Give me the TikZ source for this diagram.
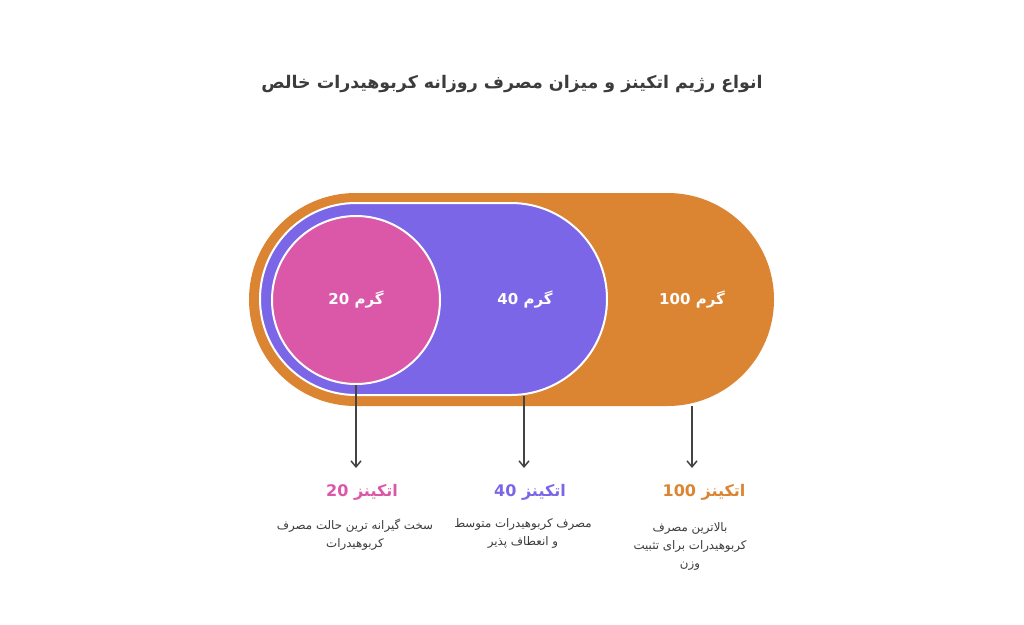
\documentclass[tikz,border=0pt]{standalone}
\usepackage{fontspec}
\newfontfamily\ar[Script=Arabic]{DejaVu Sans}
\TeXXeTstate=1
\usetikzlibrary{shapes.misc,arrows.meta}
\definecolor{orangec}{HTML}{DB8432}
\definecolor{purplec}{HTML}{7B66E8}
\definecolor{pinkc}{HTML}{DB57A8}
\definecolor{textc}{HTML}{3C3C3C}
\definecolor{arrc}{HTML}{444444}
\tikzset{
  num/.style={font=\ar\bfseries\fontsize{15}{18}\selectfont, text=white},
  head/.style={font=\ar\bfseries\fontsize{16}{20}\selectfont},
  desc/.style={font=\ar\fontsize{11.8}{18}\selectfont, text=textc, align=center},
  arr/.style={draw=arrc, line width=1.5pt, -{Straight Barb[length=6pt,width=10pt]}}
}
\begin{document}
\begin{tikzpicture}[x=1pt,y=-1pt]
\useasboundingbox (0,0) rectangle (1024,624);
\fill[white] (0,0) rectangle (1024,624);
\node[font=\ar\bfseries\fontsize{17.4}{21}\selectfont, text=textc] (title) at (512,84) {\beginR انواع رژیم اتکینز و میزان مصرف روزانه کربوهیدرات خالص\endR};
\node[rounded rectangle, fill=orangec, minimum width=525pt, minimum height=213pt, inner sep=0pt] (o100) at (511.5,299.5) {};
\node[rounded rectangle, fill=purplec, draw=white, line width=2pt, minimum width=347pt, minimum height=192pt, inner sep=0pt] (p40) at (433.5,299) {};
\node[circle, fill=pinkc, draw=white, line width=2pt, minimum size=168pt, inner sep=0pt] (c20) at (356,300) {};
\node[num] (g20) at (356,300) {\beginR گرم 20\endR};
\node[num] (g40) at (525,300) {\beginR گرم 40\endR};
\node[num] (g100) at (692,300) {\beginR گرم 100\endR};
\coordinate (e20) at (356,468);
\coordinate (e40) at (524,468);
\coordinate (e100) at (692,468);
\draw[arr] (c20.south) -- (e20);
\draw[arr] (e40 |- p40.south) -- (e40);
\draw[arr] (e100 |- o100.south) -- (e100);
\node[head, text=pinkc] (h20) at (362,492) {\beginR اتکینز 20\endR};
\node[head, text=purplec] (h40) at (530,492) {\beginR اتکینز 40\endR};
\node[head, text=orangec] (h100) at (704,492) {\beginR اتکینز 100\endR};
\node[desc, anchor=north] (d20) at (355,515) {\beginR سخت گیرانه ترین حالت مصرف\endR\\\beginR کربوهیدرات\endR};
\node[desc, anchor=north] (d40) at (523,515) {\beginR مصرف کربوهیدرات متوسط\endR\\\beginR و انعطاف پذیر\endR};
\node[desc, anchor=north] (d100) at (690,519) {\beginR بالاترین مصرف\endR\\\beginR کربوهیدرات برای تثبیت\endR\\\beginR وزن\endR};
\end{tikzpicture}
\end{document}
